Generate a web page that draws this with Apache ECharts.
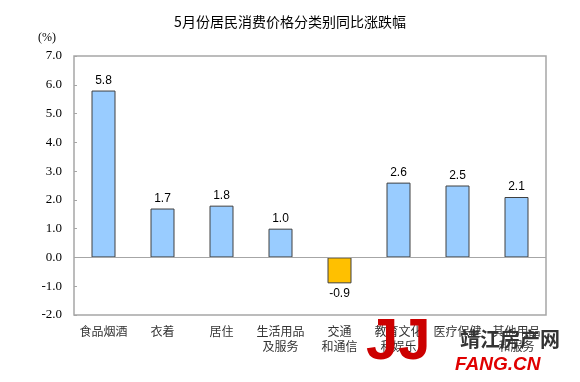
<!DOCTYPE html>
<html><head><meta charset="utf-8">
<script src="https://cdn.jsdelivr.net/npm/echarts@6/dist/echarts.min.js"></script>
<style>html,body{margin:0;padding:0;background:#fff}#c{width:580px;height:382px}</style>
</head><body><div id="c"></div>
<script>
const categories = ['食品烟酒','衣着','居住','生活用品\n及服务','交通\n和通信','教育文化\n和娱乐','医疗保健','其他用品\n和服务'];
const values = [5.8, 1.7, 1.8, 1.0, -0.9, 2.6, 2.5, 2.1];
const yTicks = [-2, -1, 0, 1, 2, 3, 4, 5, 6, 7];

const chart = echarts.init(document.getElementById('c'));
chart.setOption({
  animation: false,
  title: {
    text: '5月份居民消费价格分类别同比涨跌幅',
    left: 'center', top: 10,
    textStyle: {fontSize: 14, fontWeight: 'normal', color: '#000', fontFamily: '"Noto Sans CJK SC", sans-serif'}
  },
  graphic: [
    {type: 'text', left: 38, top: 32, style: {text: '(%)', font: '12px "Liberation Serif", serif', fill: '#000'}},
    {type: 'rect', shape: {x: 74, y: 56, width: 472, height: 259}, style: {fill: 'none', stroke: '#A6A6A6', lineWidth: 1.5}, z: 0, silent: true},
    {type: 'text', left: 366, top: 314, z: 100, style: {text: 'JJ', font: 'bold 58px "Liberation Sans", sans-serif', fill: '#CC0000'}},
    {type: 'text', left: 460, top: 329, z: 100, style: {text: '靖江房产网', font: 'bold 20px "Noto Sans CJK SC", sans-serif', fill: '#333'}},
    {type: 'text', left: 455, top: 355, z: 100, style: {text: 'FANG.CN', font: 'italic bold 19px "Liberation Sans", sans-serif', fill: '#E00000'}}
  ],
  grid: {left: 74, right: 34, top: 56, bottom: 67, containLabel: false},
  xAxis: {
    type: 'category', data: categories,
    axisLine: {show: false}, axisTick: {show: false},
    axisLabel: {interval: 0, color: '#333', fontSize: 12, lineHeight: 15, margin: 9, fontFamily: '"Noto Sans CJK SC", sans-serif'}
  },
  yAxis: {
    type: 'value', min: -2, max: 7, interval: 1,
    axisLine: {show: false},
    axisTick: {show: true, inside: true, length: 3, lineStyle: {color: '#A6A6A6'}},
    splitLine: {show: false},
    axisLabel: {formatter: v => yTicks.includes(v) ? v.toFixed(1) : '', color: '#000', fontSize: 13, margin: 12, fontFamily: '"Liberation Serif", serif'}
  },
  series: [{
    type: 'bar', barWidth: 24,
    data: values.map(v => ({value: v, itemStyle: {color: v < 0 ? '#FFC000' : '#99CCFF'}, label: v < 0 ? {position: 'bottom'} : {}})),
    itemStyle: {borderColor: '#404040', borderWidth: 1},
    label: {show: true, position: 'top', formatter: p => p.value.toFixed(1), color: '#000', fontSize: 12, fontFamily: '"Liberation Sans", Arial, sans-serif', distance: 4},
    markLine: {
      silent: true, symbol: 'none', label: {show: false},
      lineStyle: {color: '#A6A6A6', type: 'solid', width: 1},
      data: [{yAxis: 0}]
    }
  }]
});
</script></body></html>
